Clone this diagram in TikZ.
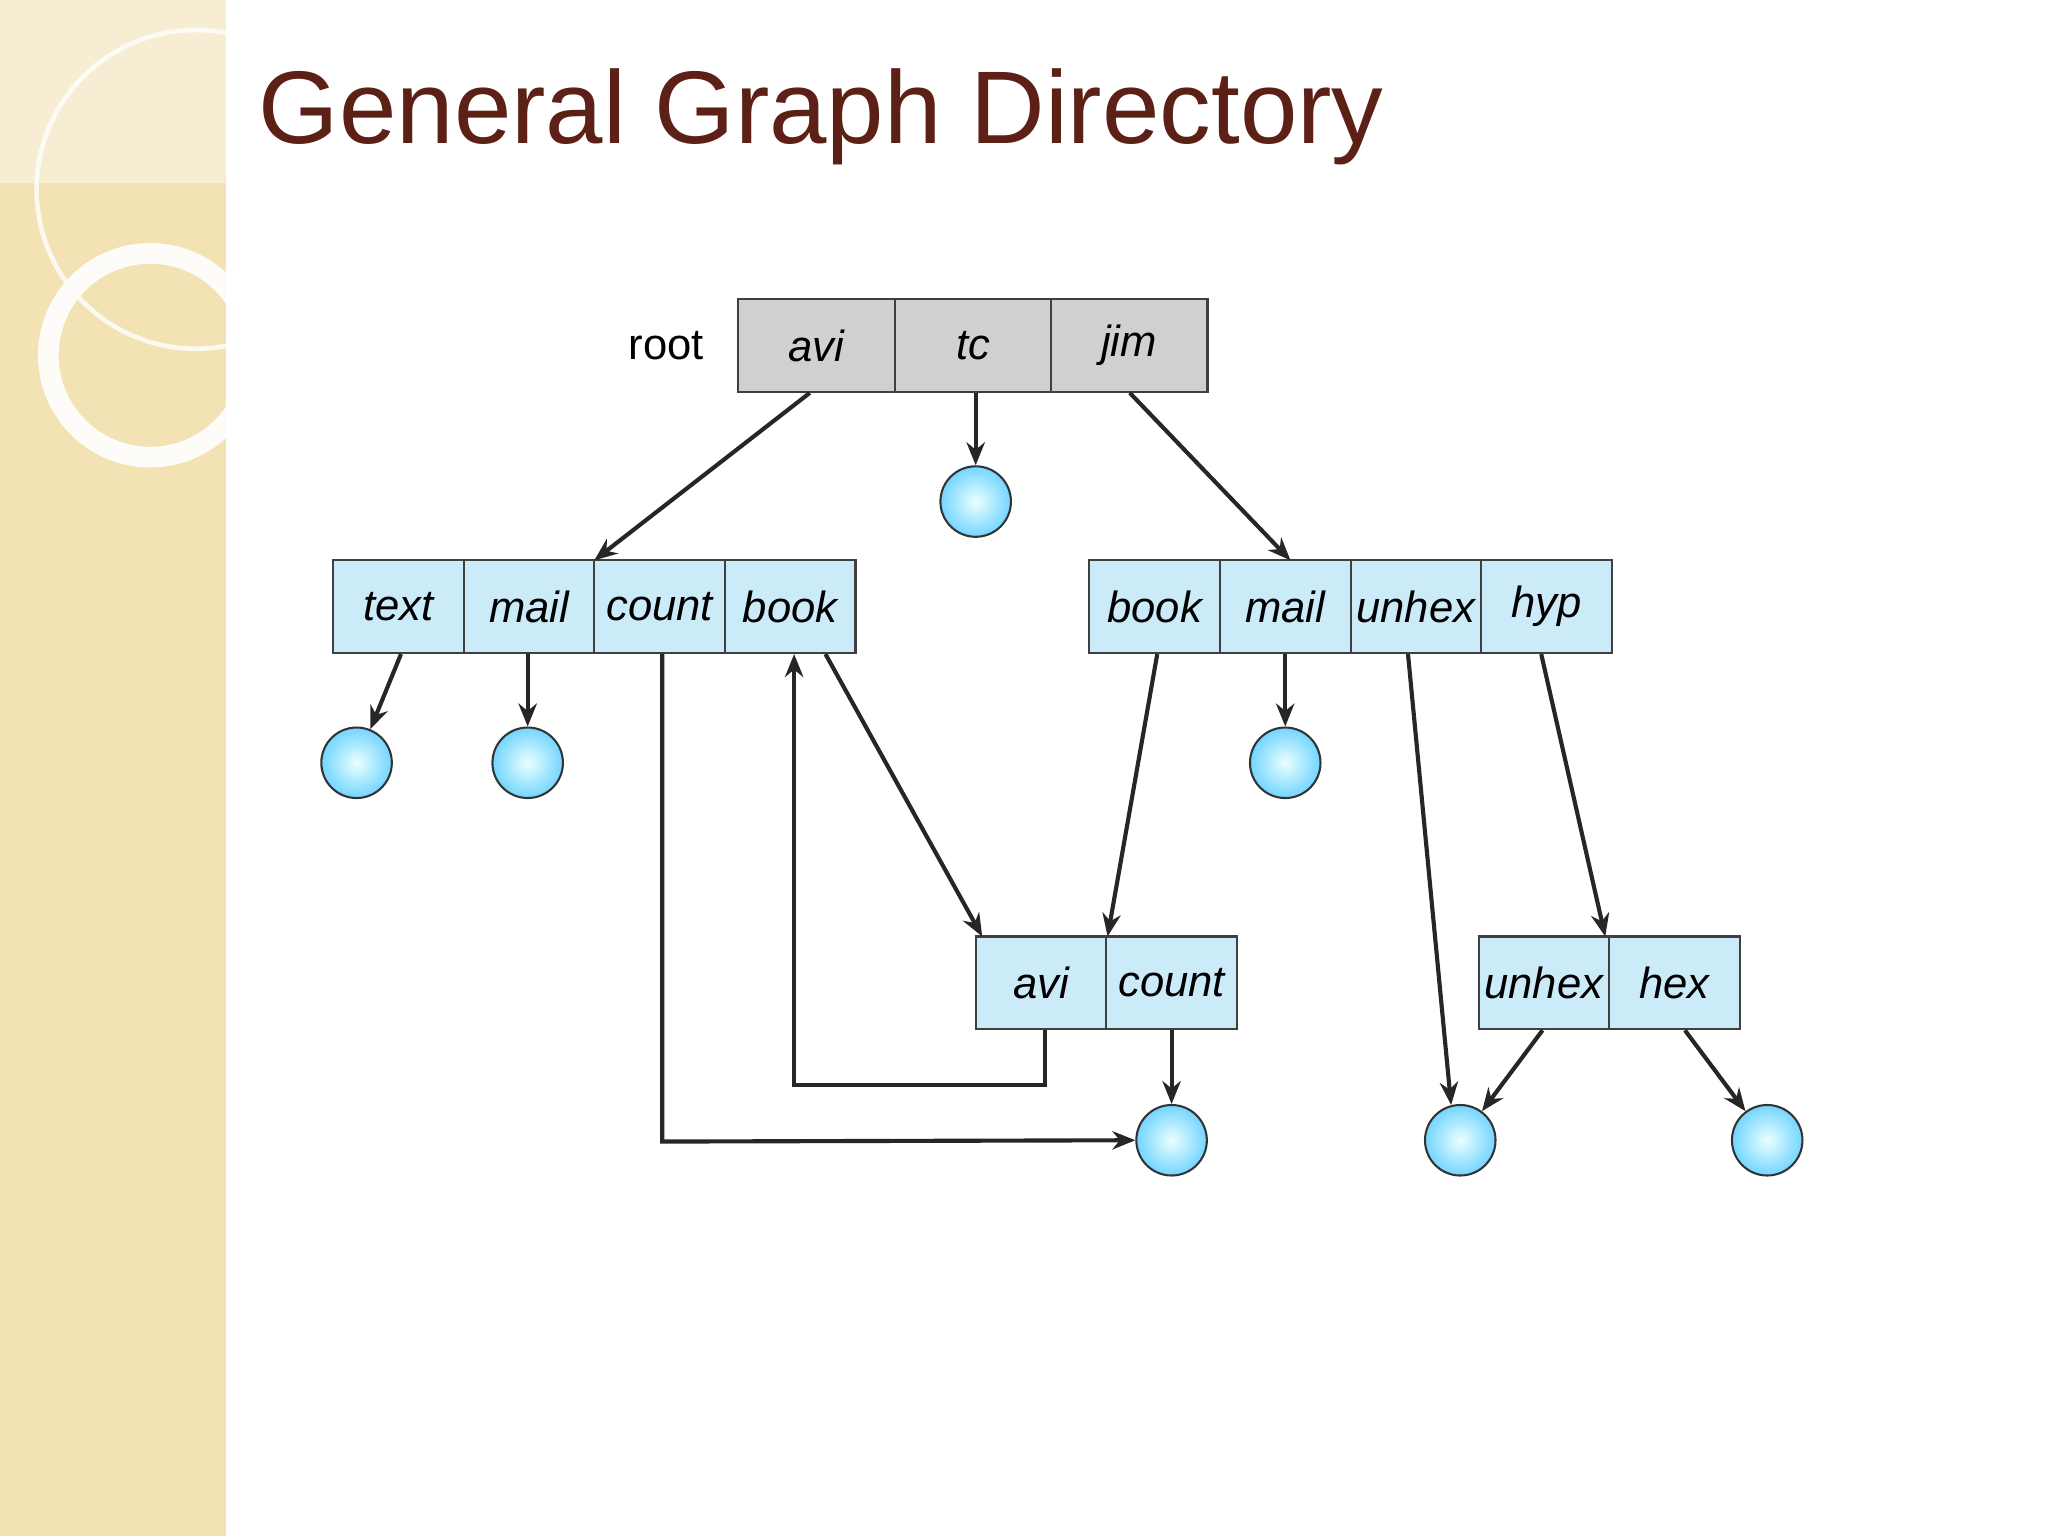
\documentclass[tikz,border=0pt]{standalone}
\usepackage{fontspec}
\setmainfont{Liberation Sans}
\usetikzlibrary{arrows.meta,shadows}
\definecolor{cellblue}{RGB}{204,235,248}
\definecolor{cellgray}{RGB}{208,208,210}
\definecolor{titlebrown}{RGB}{92,32,22}
\definecolor{sidebar}{RGB}{243,226,180}
\tikzset{
 cell/.style={draw=black!75,line width=0.9pt,minimum width=2cm,minimum height=1.42cm,inner sep=0pt,font=\fontsize{19}{22}\selectfont\itshape},
 bcell/.style={cell,fill=cellblue},
 gcell/.style={cell,fill=cellgray,minimum width=2.4cm},
 file/.style={circle,draw=black!80,line width=0.9pt,minimum size=1.08cm,inner sep=0pt,inner color=cyan!8,outer color=cyan!70!blue!55},
 arr/.style={draw=black!85,line width=1.8pt,-{Stealth[length=10pt,width=8pt]}}
}
\begin{document}
\begin{tikzpicture}[x=0.02cm,y=-0.02cm]
\useasboundingbox (0,0) rectangle (1568,1176);
\fill[white] (0,0) rectangle (1568,1176);
\fill[sidebar] (0,0) rectangle (173,1176);
\fill[white,opacity=0.4] (0,0) rectangle (173,140);
\begin{scope}
\clip (0,0) rectangle (173,1176);
\draw[white,opacity=0.8,line width=2pt] (150,145) circle (122);
\draw[white!90!sidebar,line width=9pt] (115,272) circle (78);
\end{scope}
\node[anchor=base west,text=titlebrown,font=\fontsize{45}{50}\selectfont] (title) at (192,110) {General Graph Directory};
% root
\node[gcell] (ravi) at (625,264.5) {avi};
\node[gcell] (rtc) at (745,264.5) {tc};
\node[gcell] (rjim) at (864.5,264.5) {jim};
\node[anchor=east,font=\fontsize{19}{22}\selectfont] (root) at (545,264.5) {root};
\node[file] (ftc) at (747,384) {};
% left row
\node[bcell] (ltext) at (305,464.5) {text};
\node[bcell] (lmail) at (405,464.5) {mail};
\node[bcell] (lcount) at (505,464.5) {count};
\node[bcell] (lbook) at (605,464.5) {book};
% right row
\node[bcell] (rbook) at (884,464.5) {book};
\node[bcell] (rmail) at (984,464.5) {mail};
\node[bcell] (runhex) at (1084,464.5) {unhex};
\node[bcell] (rhyp) at (1184,464.5) {hyp};
% mid rows
\node[bcell] (mavi) at (797,752.5) {avi};
\node[bcell] (mcount) at (897,752.5) {count};
\node[bcell] (munhex) at (1182,752.5) {unhex};
\node[bcell] (mhex) at (1282,752.5) {hex};
% files
\node[file] (f1) at (273,584) {};
\node[file] (f2) at (404,584) {};
\node[file] (f3) at (984,584) {};
\node[file] (f4) at (897,873) {};
\node[file] (f5) at (1118,873) {};
\node[file] (f6) at (1353,873) {};
% arrows
\draw[arr] (ravi.south -| 620,0) -- (455,429);
\draw[arr] (rtc.south -| ftc) -- (ftc.north);
\draw[arr] (rjim.south -| 865,0) -- (988,429);
\draw[arr] (ltext.south -| 307,0) -- (f1);
\draw[arr] (lmail.south -| f2) -- (f2.north);
\draw[arr] (lcount.south -| 507,0) -- (507,874) -- (f4.west);
\draw[arr] (mavi.south -| 800,0) -- (800,831) -- (608,831) -- (lbook.south -| 608,0);
\draw[arr] (lbook.south -| 632,0) -- (752,717);
\draw[arr] (rbook.south -| 886,0) -- (848,717);
\draw[arr] (rmail.south -| f3) -- (f3.north);
\draw[arr] (runhex.south -| 1078,0) -- (1111,846);
\draw[arr] (rhyp.south -| 1180,0) -- (1229,717);
\draw[arr] (munhex.south -| 1181,0) -- (f5);
\draw[arr] (mhex.south -| 1290,0) -- (f6);
\draw[arr] (mcount.south -| f4) -- (f4.north);
\end{tikzpicture}
\end{document}
